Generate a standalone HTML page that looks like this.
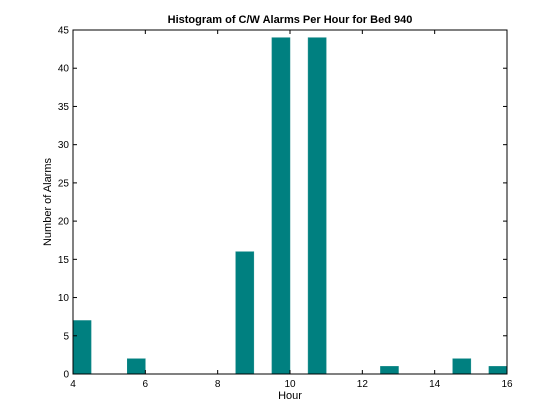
<!DOCTYPE html>
<html><head><meta charset="utf-8"><style>body{margin:0;background:#fff}svg{display:block;font-family:"Liberation Sans",sans-serif}</style></head>
<body>
<svg id="chart" width="560" height="420" viewBox="0 0 560 420">
<rect width="560" height="420" fill="#fff"/>
<g id="bars"></g>
<g id="axes"></g>
<text x="290" y="23" text-anchor="middle" font-size="11" font-weight="bold">Histogram of C/W Alarms Per Hour for Bed 940</text>
<text x="290" y="399" text-anchor="middle" font-size="11">Hour</text>
<text transform="translate(51,202) rotate(-90)" text-anchor="middle" font-size="11">Number of Alarms</text>
</svg>
<script>
const binStarts=[4,5.5,8.5,9.5,10.5,12.5,14.5,15.5];
const counts=[7,2,16,44,44,1,2,1];
const binWidth=0.5;
const xTicks=[4,6,8,10,12,14,16];
const yTicks=[0,5,10,15,20,25,30,35,40,45];
const L=73,R=507,T=30,B=374;
const xs=v=>L+(v-4)/(16-4)*(R-L);
const ys=v=>B-v/45*(B-T);
const NS="http://www.w3.org/2000/svg";
const bars=document.getElementById('bars'),axes=document.getElementById('axes');
function mk(tag,attrs,parent){const e=document.createElementNS(NS,tag);for(const k in attrs)e.setAttribute(k,attrs[k]);parent.appendChild(e);return e;}
binStarts.forEach((s,i)=>{
 const r=mk('rect',{x:xs(s),y:ys(counts[i]),width:xs(s+binWidth)-xs(s),height:B-ys(counts[i]),fill:'#008080',stroke:'#1a8a8a','stroke-width':0.5},bars);
 
 
});
const box=mk('rect',{x:L,y:T,width:R-L,height:B-T,fill:'none',stroke:'#000','stroke-width':1},axes);


xTicks.forEach(v=>{
 const x=xs(v);
 mk('line',{x1:x,y1:B,x2:x,y2:B-4,stroke:'#000'},axes);
 mk('line',{x1:x,y1:T,x2:x,y2:T+4,stroke:'#000'},axes);
 const t=mk('text',{x:x,y:B+13,'text-anchor':'middle','font-size':10},axes);
 t.textContent=v;
 
 
});
yTicks.forEach(v=>{
 const y=ys(v);
 mk('line',{x1:L,y1:y,x2:L+4,y2:y,stroke:'#000'},axes);
 mk('line',{x1:R,y1:y,x2:R-4,y2:y,stroke:'#000'},axes);
 const t=mk('text',{x:L-4,y:y+3.5,'text-anchor':'end','font-size':10},axes);
 t.textContent=v;
 
 
});
</script>
</body></html>
